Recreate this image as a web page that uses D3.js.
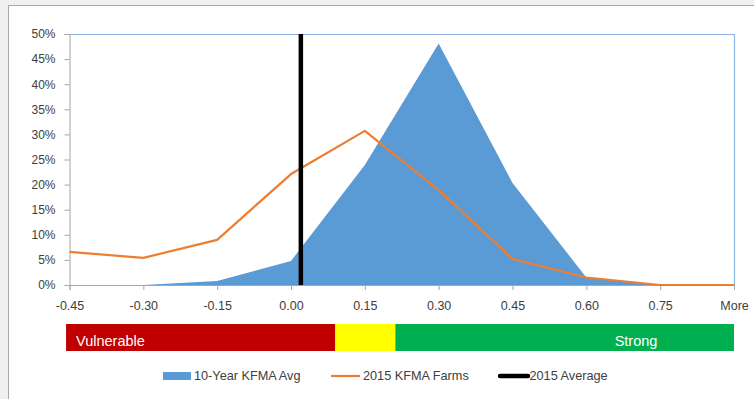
<!DOCTYPE html>
<html><head><meta charset="utf-8">
<script src="https://cdn.jsdelivr.net/npm/d3@7"></script>
<style>body{margin:0;background:#fff}svg{display:block}</style>
</head><body>
<svg id="c" width="754" height="399"></svg>
<script>
const categories = ["-0.45","-0.30","-0.15","0.00","0.15","0.30","0.45","0.60","0.75","More"];
const avg10Year = [0, 0, 0.8, 4.8, 23.9, 48.1, 20.3, 1.5, 0, 0];
const farms2015 = [6.6, 5.4, 9.0, 22.1, 30.7, 18.9, 5.2, 1.5, 0, 0];
const average2015 = 0.02;
const yTicks = [0,5,10,15,20,25,30,35,40,45,50];
const zoneEdges = [-0.457, 0.09, 0.212, 0.90];
const zoneNames = ["Vulnerable", "", "Strong"];
const zoneColors = ["#C00000", "#FFFF00", "#00B050"];
const legendNames = ["10-Year KFMA Avg", "2015 KFMA Farms", "2015 Average"];

const svg = d3.select("#c");
const font = "'Liberation Sans', Arial, sans-serif";
const L = 69.5, R = 734, T = 34, B = 285;

// page frame
svg.append("rect").attr("x",0).attr("y",0).attr("width",754).attr("height",5).attr("fill","#f0f0f0");
svg.append("rect").attr("x",0).attr("y",0).attr("width",8).attr("height",399).attr("fill","#f0f0f0");
svg.append("line").attr("x1",8.5).attr("x2",8.5).attr("y1",5).attr("y2",399).attr("stroke","#a8a8a8");
svg.append("line").attr("x1",8).attr("x2",754).attr("y1",5.5).attr("y2",5.5).attr("stroke","#a8a8a8");

const x = d3.scalePoint().domain(categories).range([L, R]).padding(0);
const xv = d3.scaleLinear().domain([-0.45, 0.90]).range([L, R]);
const y = d3.scaleLinear().domain([0, 50]).range([B, T]);

// border top/right
svg.append("path").attr("d", `M${L},${T+0.5}H${R+0.5}V${B}`).attr("fill","none").attr("stroke","#8DB4E2").attr("stroke-width",1.2);

// area
const area = d3.area().x((d,i)=>x(categories[i])).y0(y(0)).y1(d=>y(d));
svg.append("path").datum(avg10Year).attr("d", area).attr("fill","#5B9BD5");

// axes
const gy = svg.append("g").attr("transform",`translate(${L},0)`)
  .call(d3.axisLeft(y).tickValues(yTicks).tickSize(5).tickPadding(9).tickFormat(d=>d+"%"));
const gx = svg.append("g").attr("transform",`translate(0,${B})`)
  .call(d3.axisBottom(x).tickSize(5).tickPadding(9));
[gy,gx].forEach(g=>{
  g.select(".domain").attr("stroke","#A6A6A6");
  g.selectAll(".tick line").attr("stroke","#A6A6A6");
  g.selectAll("text").attr("font-family",font).attr("font-size","12px").attr("fill","#404040");
});
gx.selectAll("text").attr("font-size","12.5px").attr("dy","0.9em");

// orange line
const line = d3.line().x((d,i)=>x(categories[i])).y(d=>y(d));
svg.append("path").datum(farms2015).attr("d", line).attr("fill","none")
  .attr("stroke","#ED7D31").attr("stroke-width",2.2).attr("stroke-linejoin","round");

// black average line
svg.append("line").attr("x1",xv(average2015)).attr("x2",xv(average2015))
  .attr("y1",y(50)).attr("y2",y(0)).attr("stroke","#000").attr("stroke-width",4.5);

// zones bar
const zg = svg.append("g");
zoneColors.forEach((c,i)=>{
  zg.append("rect").attr("x",xv(zoneEdges[i])).attr("width",xv(zoneEdges[i+1])-xv(zoneEdges[i]))
    .attr("y",324).attr("height",27).attr("fill",c);
});
zg.append("text").attr("x",xv(zoneEdges[0])+10).attr("y",341).attr("dy","0.35em")
  .attr("font-family",font).attr("font-size","14.5px").attr("fill","#fff").text(zoneNames[0]);
zg.append("text").attr("x",636).attr("y",341).attr("dy","0.35em").attr("text-anchor","middle")
  .attr("font-family",font).attr("font-size","14.5px").attr("fill","#fff").text(zoneNames[2]);

// legend
const lg = svg.append("g").attr("font-family",font).attr("font-size","12.7px").attr("fill","#404040");
const ly = 376;
lg.append("rect").attr("x",163).attr("y",372).attr("width",28).attr("height",8).attr("fill","#5B9BD5");
lg.append("text").attr("x",194).attr("y",ly).attr("dy","0.35em").text(legendNames[0]);
lg.append("line").attr("x1",331).attr("x2",360).attr("y1",ly).attr("y2",ly).attr("stroke","#ED7D31").attr("stroke-width",2.2);
lg.append("text").attr("x",363).attr("y",ly).attr("dy","0.35em").text(legendNames[1]);
lg.append("line").attr("x1",500).attr("x2",528).attr("y1",ly).attr("y2",ly).attr("stroke","#000").attr("stroke-width",4.5).attr("stroke-linecap","round");
lg.append("text").attr("x",529.5).attr("y",ly).attr("dy","0.35em").text(legendNames[2]);
</script>
</body></html>
